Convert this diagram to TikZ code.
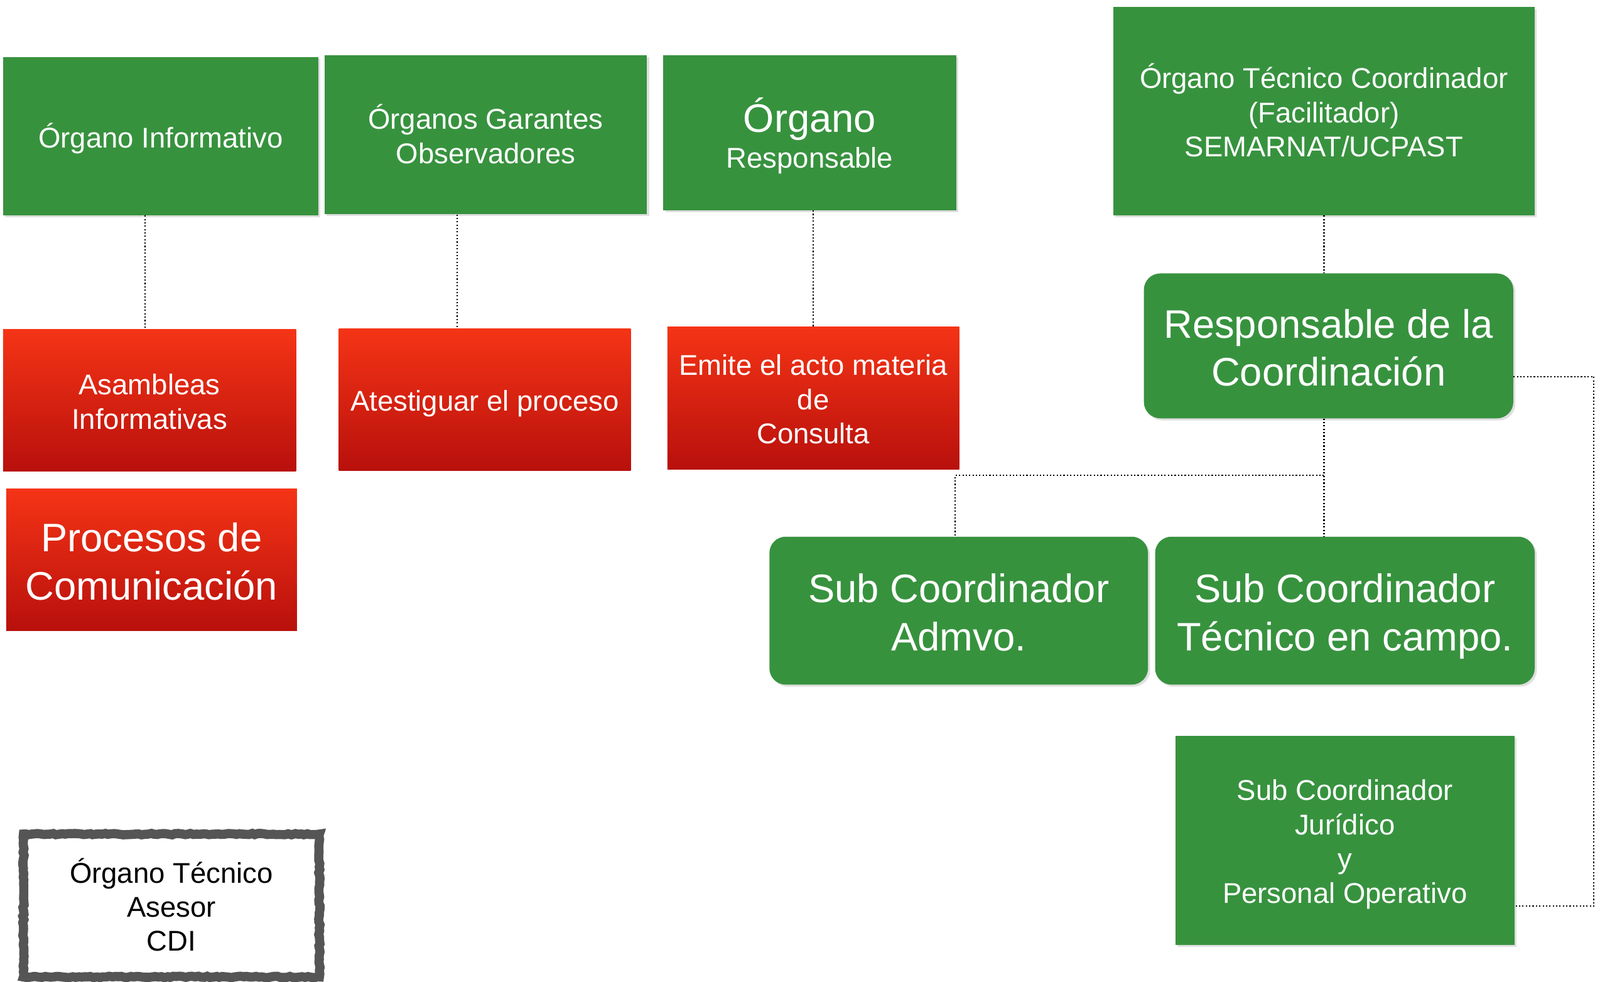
\documentclass[tikz,border=0pt]{standalone}
\usepackage{fontspec}
\setmainfont{Liberation Sans}
\usetikzlibrary{shadows,decorations.pathmorphing}
\definecolor{gfill}{RGB}{55,146,62}
\definecolor{rtop}{RGB}{245,52,22}
\definecolor{rbot}{RGB}{184,16,12}
\definecolor{frame}{RGB}{85,85,85}
\newcommand\fsA{\fontsize{28}{33.5}\selectfont}
\newcommand\fsB{\fontsize{39}{47}\selectfont}
\newcommand\bs{\rule{0pt}{1.02em}}
\newcommand\es{\rule[-0.215em]{0pt}{0.215em}}
\begin{document}
\begin{tikzpicture}[x=1pt,y=-1pt,
  txt/.style={inner sep=0pt, align=center, font=\fsA},
  gbox/.style={txt, fill=gfill, text=white,
    drop shadow={shadow xshift=2pt, shadow yshift=-2pt, opacity=0.25}},
  rbox/.style={txt, top color=rtop, bottom color=rbot, text=white},
  conn/.style={draw=black, line width=1.3pt, dash pattern=on 1.3pt off 2pt}]
\useasboundingbox (0,0) rectangle (1568,962.4);
% green boxes
\node[gbox, minimum width=309, minimum height=155] (info) at (157.5,133.5) {\bs Órgano Informativo\es};
\node[gbox, minimum width=316, minimum height=156] (gar) at (476,132) {\bs Órganos Garantes\\Observadores\es};
\node[gbox, minimum width=287, minimum height=152] (resp) at (793.5,130) {{\fsB\bs Órgano}\\[1.5pt]Responsable\es};
\node[gbox, minimum width=413, minimum height=204] (tec) at (1297.5,109) {\bs Órgano Técnico Coordinador\\(Facilitador)\\SEMARNAT/UCPAST\es};
\node[gbox, rounded corners=16pt, font=\fsB, minimum width=362, minimum height=142] (rcoord) at (1302,339) {\bs Responsable de la\\Coordinación\es};
\node[gbox, rounded corners=16pt, font=\fsB, minimum width=371, minimum height=145] (admvo) at (939.5,598.5) {\bs Sub Coordinador\\Admvo.\es};
\node[gbox, rounded corners=16pt, font=\fsB, minimum width=372, minimum height=145] (campo) at (1318,598.5) {\bs Sub Coordinador\\Técnico en campo.\es};
\node[gbox, minimum width=332, minimum height=205] (jur) at (1318,823.5) {\bs Sub Coordinador\\Jurídico\\y\\Personal Operativo\es};
% red boxes
\node[rbox, minimum width=287, minimum height=139] (asam) at (146.5,392.5) {\bs Asambleas\\Informativas\es};
\node[rbox, minimum width=286, minimum height=139] (ates) at (475,391.5) {\bs Atestiguar el proceso\es};
\node[rbox, minimum width=286, minimum height=140] (emite) at (797,390) {\bs Emite el acto materia\\de\\Consulta\es};
\node[rbox, font=\fsB, minimum width=285, minimum height=139] (proc) at (148.5,548.5) {\bs Procesos de\\Comunicación\es};
% advisory box
\node[txt, draw=frame, line width=9pt, fill=white,
  decorate, decoration={random steps, segment length=3pt, amplitude=0.7pt},
  minimum width=290, minimum height=140] (cdi) at (168,887.5) {\bs Órgano Técnico\\Asesor\\CDI\es};
% helper coordinates
\coordinate (cx1) at (142,0);
\coordinate (cx2) at (448,0);
\coordinate (cx4) at (1297.5,0);
\coordinate (jn) at (1297.5,466);
\coordinate (cx6) at (936,0);
\coordinate (cx7) at (1562,0);
\coordinate (ry1) at (0,369);
\coordinate (ry2) at (0,888);
% connectors
\draw[conn] (info.south -| cx1) -- (asam.north -| cx1);
\draw[conn] (gar.south -| cx2) -- (ates.north -| cx2);
\draw[conn] (resp.south -| emite.north) -- (emite.north);
\draw[conn] (tec.south) -- (rcoord.north -| cx4);
\draw[conn] (rcoord.south -| cx4) -- (campo.north -| cx4);
\draw[conn] (jn) -| (cx6 |- admvo.north);
\draw[conn] (rcoord.east |- ry1) -| (cx7 |- ry2) -- (jur.east |- ry2);
\end{tikzpicture}
\end{document}
